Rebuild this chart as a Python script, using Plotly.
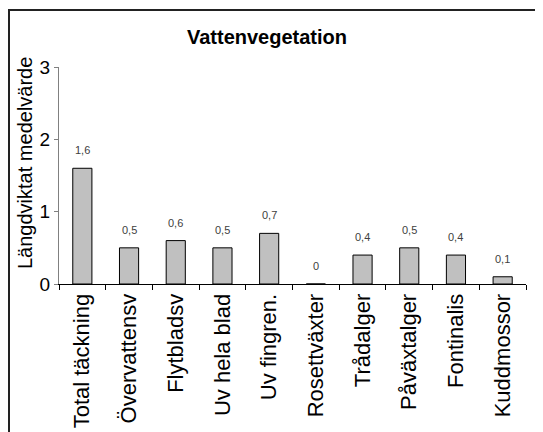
import plotly.graph_objects as go

categories = ["Total täckning", "Övervattensv", "Flytbladsv", "Uv hela blad", "Uv fingren.",
              "Rosettväxter", "Trådalger", "Påväxtalger", "Fontinalis", "Kuddmossor"]
values = [1.6, 0.5, 0.6, 0.5, 0.7, 0.0, 0.4, 0.5, 0.4, 0.1]
labels = ["0" if v == 0 else f"{v:.1f}".replace(".", ",") for v in values]

OFF = 8  # page body margin
W, H = 543, 432
L, T = 59 - OFF, 67 - OFF
R, B = W - (526 - OFF), H - (284 - OFF)
pw, ph = W - L - R, H - T - B

fig = go.Figure()
fig.add_trace(go.Bar(
    x=categories, y=values, width=0.41,
    marker=dict(color="#c0c0c0", line=dict(color="black", width=1)),
))
for c, v, t in zip(categories, values, labels):
    fig.add_annotation(x=c, y=v, text=t, showarrow=False, yshift=18,
                       font=dict(family="Arial", size=11, color="#404040"))

# y-axis title as annotation (page coords x=25, y=163)
fig.add_annotation(xref="paper", yref="paper",
                   x=(25 - OFF - L) / pw, y=(T + ph - (163 - OFF)) / ph,
                   text="Längdviktat medelvärde", textangle=-90, showarrow=False,
                   xanchor="center", yanchor="middle",
                   font=dict(family="Arial", size=20, color="black"))

fig.update_layout(
    width=W, height=H,
    margin=dict(l=L, r=R, t=T, b=B),
    paper_bgcolor="white", plot_bgcolor="white",
    showlegend=False,
    title=dict(text="<b>Vattenvegetation</b>", x=(267 - OFF) / W, xanchor="center",
               y=1 - (37 - OFF) / H, yanchor="middle",
               font=dict(family="Arial", size=20, color="black")),
    xaxis=dict(showline=True, linecolor="black", linewidth=1,
               ticks="outside", tickson="boundaries", ticklen=5, tickcolor="black",
               tickangle=-90, tickfont=dict(family="Arial", size=22, color="black"),
               showgrid=False, range=[-0.5, 9.5]),
    yaxis=dict(range=[0, 3], tickvals=[0, 1, 2, 3], showline=True, linecolor="#808080",
               linewidth=1, ticks="outside", ticklen=4, tickcolor="#808080",
               tickfont=dict(family="Arial", size=19, color="black"),
               showgrid=False, zeroline=False),
    shapes=[dict(type="rect", xref="paper", yref="paper",
                 x0=(1 - L) / pw, x1=(W + 10 - L) / pw,
                 y0=(T + ph - (H + 10)) / ph, y1=(T + ph - (10 - OFF)) / ph,
                 line=dict(color="#222222", width=2), layer="below")],
)

fig.write_html("out.html")
